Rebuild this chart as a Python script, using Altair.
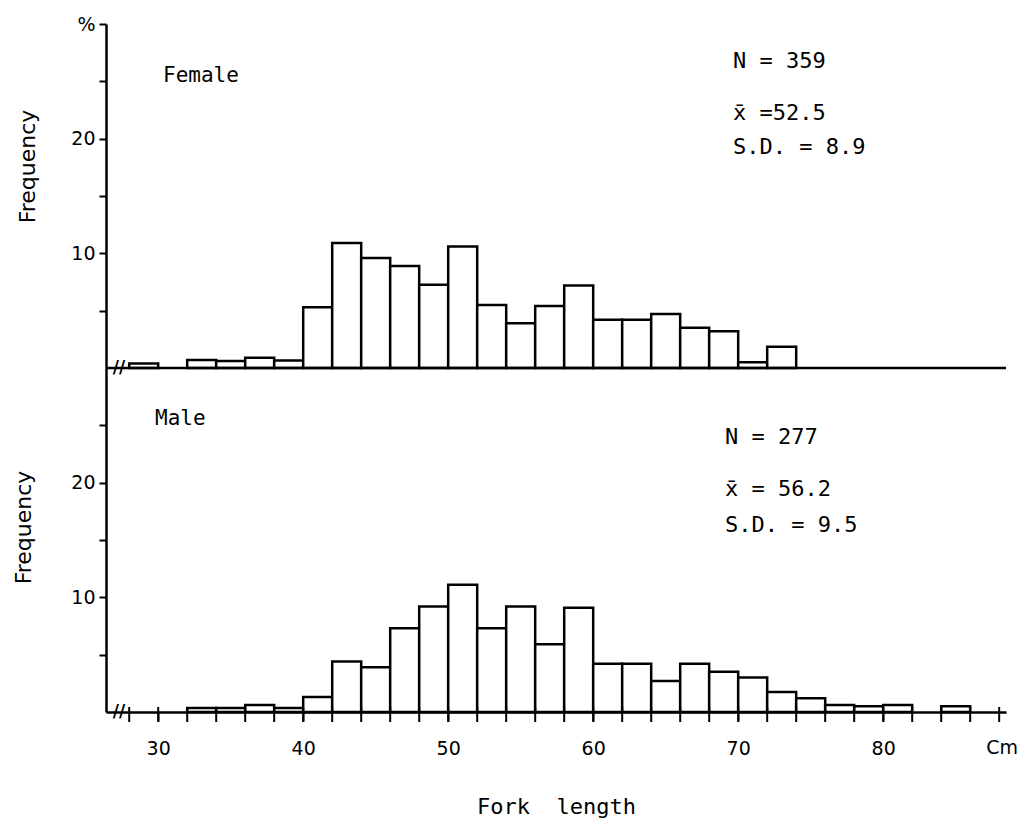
import altair as alt
import pandas as pd

# ---- data (percent frequency per 2-cm fork-length class) ----
CLASS_WIDTH = 2
female_lo = [28, 32, 34, 36, 38, 40, 42, 44, 46, 48, 50, 52, 54, 56, 58, 60, 62, 64, 66, 68, 70, 72]
female_pct = [0.4, 0.7, 0.6, 0.9, 0.65, 5.3, 10.9, 9.6, 8.9, 7.25, 10.6, 5.5, 3.9, 5.4, 7.2, 4.2, 4.2, 4.7, 3.5, 3.2, 0.5, 1.85]
male_lo = [32, 34, 36, 38, 40, 42, 44, 46, 48, 50, 52, 54, 56, 58, 60, 62, 64, 66, 68, 70, 72, 74, 76, 78, 80, 84]
male_pct = [0.35, 0.35, 0.6, 0.35, 1.3, 4.4, 3.9, 7.3, 9.2, 11.1, 7.3, 9.2, 5.9, 9.1, 4.2, 4.2, 2.7, 4.2, 3.5, 3.0, 1.75, 1.2, 0.6, 0.5, 0.6, 0.5]

female_stats = ["N = 359", "x\u0304 =52.5", "S.D. = 8.9"]
male_stats = ["N = 277", "x\u0304 = 56.2", "S.D. = 9.5"]

x_labels = [30, 40, 50, 60, 70, 80]
x_ticks = list(range(28, 90, 2))
y_ticks_top = [5, 10, 15, 20, 25, 30]
y_ticks_bottom = [5, 10, 15, 20, 25]

W, H = 900, 344
MONO = "DejaVu Sans Mono"
SANS = "DejaVu Sans"

xscale = alt.Scale(domain=[26.4, 88.47], nice=False, zero=False)
yscale = alt.Scale(domain=[0, 30], nice=False)
one = pd.DataFrame({"k": [0]})


def y_axis(values, title_x, title_y):
    return alt.Axis(
        values=values,
        labelExpr="datum.value == 30 ? '%' : (datum.value % 10 == 0 ? datum.label : '')",
        labelOverlap=False,
        grid=False, tickSize=7, tickWidth=2, tickColor="black",
        domainColor="black", domainWidth=2.5,
        labelFont=SANS, labelFontSize=19, labelColor="black", labelPadding=4,
        title="Frequency", titleFont=SANS, titleFontSize=22, titleFontWeight="normal",
        titleColor="black", titleX=title_x, titleY=title_y, titleBaseline="alphabetic",
    )


def panel(lo, pct, label, stats, label_pos, stats_pos, bottom):
    df = pd.DataFrame({"lo": lo, "pct": pct})
    if bottom:
        xaxis = alt.Axis(
            values=x_labels,
            labelOverlap=False,
            grid=False, tickSize=9, tickWidth=2, tickColor="black",
            domainColor="black", domainWidth=2.5,
            labelFont=SANS, labelFontSize=19, labelColor="black", labelPadding=18,
            title="Fork\u00a0 length", titleFont=MONO, titleFontSize=22,
            titleFontWeight="normal", titleColor="black", titlePadding=38,
        )
        yax = y_axis(y_ticks_bottom, -76, 159)
    else:
        xaxis = alt.Axis(ticks=False, labels=False, grid=False, title=None, domain=False)
        yax = y_axis(y_ticks_top, -72, 142)

    bars = alt.Chart(df).transform_calculate(
        hi=f"datum.lo + {CLASS_WIDTH}"
    ).mark_rect(fill="white", stroke="black", strokeWidth=2.5).encode(
        x=alt.X("lo:Q", scale=xscale, axis=xaxis),
        x2="hi:Q",
        y=alt.Y("pct:Q", scale=yscale, axis=yax),
        y2=alt.datum(0),
    )

    layers = [bars]
    if bottom:
        ticks = alt.Chart(pd.DataFrame({"t": x_ticks})).mark_rule(
            color="black", strokeWidth=2
        ).encode(x=alt.X("t:Q", scale=xscale), y=alt.value(H - 5), y2=alt.value(H + 10))
        layers.append(ticks)
    else:
        base = alt.Chart(one).mark_rule(color="black", strokeWidth=2.5).encode(
            x=alt.value(0), x2=alt.value(W), y=alt.datum(0)
        )
        layers.append(base)
    layers.append(alt.Chart(one).mark_text(
        text="//", font=SANS, fontSize=17, fontWeight="bold", color="black"
    ).encode(x=alt.datum(27.3), y=alt.datum(0)))
    layers.append(alt.Chart(one).mark_text(
        text=label, font=MONO, fontSize=21, align="left", baseline="middle", color="black"
    ).encode(x=alt.value(label_pos[0]), y=alt.value(label_pos[1])))
    for txt, (px, py) in zip(stats, stats_pos):
        layers.append(alt.Chart(one).mark_text(
            text=txt, font=MONO, fontSize=22, align="left", baseline="middle", color="black"
        ).encode(x=alt.value(px), y=alt.value(py)))
    if bottom:
        layers.append(alt.Chart(one).mark_text(
            text="Cm", font=SANS, fontSize=19, align="center", baseline="middle", color="black"
        ).encode(x=alt.datum(88.2), y=alt.value(H + 36)))
    return alt.layer(*layers).properties(width=W, height=H)


top = panel(female_lo, female_pct, "Female", female_stats, (57, 52),
            [(627, 37), (627, 89), (627, 123)], bottom=False)
bot = panel(male_lo, male_pct, "Male", male_stats, (49, 51),
            [(619, 69), (619, 121), (619, 157)], bottom=True)

chart = alt.vconcat(top, bot, spacing=0, bounds="flush").properties(
    padding={"left": 4, "top": 7, "right": 0, "bottom": 2},
    background="white",
).configure_view(stroke=None).configure_axis(
    labelOverlap=False
)

chart.save("out.html", embed_options={"renderer": "svg", "actions": False})
